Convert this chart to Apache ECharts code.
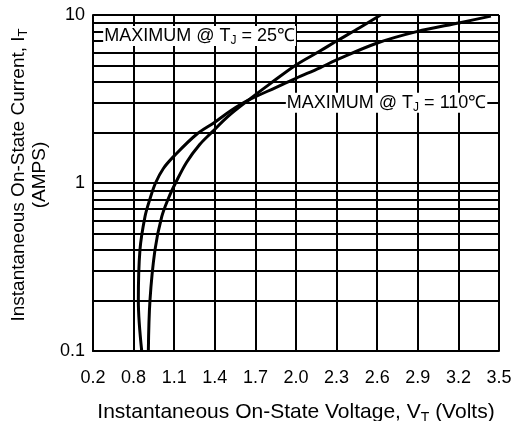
<!DOCTYPE html>
<html>
<head>
<meta charset="utf-8">
<script src="https://cdn.jsdelivr.net/npm/echarts@6/dist/echarts.min.js"></script>
<style>html,body{margin:0;padding:0;background:#fff}#c{width:524px;height:421px}</style>
</head>
<body>
<div id="c"></div>
<script>
// Tick labels (x axis is drawn with evenly spaced ticks: first label "0.2", then 0.8 ... 3.5)
var xTickLabels = ['0.2','0.8','1.1','1.4','1.7','2.0','2.3','2.6','2.9','3.2','3.5'];
var yTickLabels = ['0.1','1','10'];
var minorGrid = [0.2,0.3,0.4,0.5,0.6,0.7,0.8,0.9,2,3,4,5,6,7,8,9];

// Series: voltage (V) and current (A)
var v25  = [0.909,0.921,0.958,1.008,1.06,1.11,1.192,1.29,1.377,1.50,1.645,1.80,2.0,2.177,2.30,2.47,2.625];
var i25  = [0.1,0.2,0.4,0.63,0.82,1.0,1.33,1.7,2.0,2.5,3.1,3.85,5.04,6.1,7.0,8.4,10];
var v110 = [0.86,0.835,0.847,0.884,0.92,0.962,1.02,1.10,1.266,1.40,1.52,1.645,1.85,2.0,2.177,2.30,2.596,2.892,3.212,3.44];
var i110 = [0.1,0.2,0.4,0.63,0.8,1.0,1.22,1.45,1.95,2.3,2.7,3.1,3.7,4.2,4.85,5.4,6.79,7.96,9.0,9.85];

// Axis transform: 0.5 V at the first tick, 0.3 V per tick
function xPos(v){ return (v - 0.5) / 0.3; }
function pairs(vs, is){ return vs.map(function(v,k){ return [xPos(v), is[k]]; }); }

var FONT = 'Liberation Sans, Arial, sans-serif';
function rich(fs, ss){
  return {
    n: {fontSize:fs, fontFamily:FONT, color:'#000', lineHeight:fs+2},
    s: {fontSize:ss, fontFamily:FONT, color:'#000', lineHeight:ss, padding:[Math.round(fs*0.5),0,0,0]}
  };
}

var chart = echarts.init(document.getElementById('c'), null, {renderer:'canvas'});
chart.setOption({
  animation:false,
  backgroundColor:'#fff',
  grid:{left:93, right:25, top:15, bottom:70, containLabel:false, outerBoundsMode:'none'},
  xAxis:{
    type:'value', min:0, max:10, interval:1,
    axisLine:{show:true, lineStyle:{color:'#000', width:2}},
    axisTick:{show:false},
    axisLabel:{margin:18, fontSize:18, fontFamily:FONT, color:'#000',
      formatter:function(val){ return xTickLabels[Math.round(val)]; }},
    splitLine:{show:true, lineStyle:{color:'#000', width:2}},
    name:'{n|Instantaneous On-State Voltage, V}{s|T}{n| (Volts)}',
    nameLocation:'middle', nameGap:50,
    nameTextStyle:{rich:rich(21,14)}
  },
  yAxis:{
    type:'log', logBase:10, min:0.1, max:10,
    axisLine:{show:true, lineStyle:{color:'#000', width:2}},
    axisTick:{show:false},
    axisLabel:{margin:8, fontSize:18, fontFamily:FONT, color:'#000',
      formatter:function(val){ var k = Math.round(Math.log10(val)) + 1; return yTickLabels[k]; }},
    splitLine:{show:true, lineStyle:{color:'#000', width:2}},
    name:'{n|Instantaneous On-State Current, I}{s|T}\n{n|(AMPS)}',
    nameLocation:'middle', nameGap:33, nameRotate:90,
    nameTextStyle:{rich:rich(19,13), align:'center', padding:[0,0,0,16]}
  },
  series:[
    {
      type:'line', data:[[0,1]], showSymbol:false, silent:true, z:1,
      lineStyle:{width:0},
      markLine:{
        silent:true, symbol:['none','none'], animation:false,
        label:{show:false},
        lineStyle:{color:'#000', width:2, type:'solid'},
        data: minorGrid.map(function(g){ return {yAxis:g}; })
      }
    },
    {
      name:'25', type:'line', data:pairs(v25, i25), smooth:0.35, showSymbol:false, z:3,
      lineStyle:{color:'#000', width:3},
      markPoint:{
        symbol:'circle', symbolSize:0, silent:true,
        data:[{coord:[xPos(0.575), 7.5]}],
        label:{show:true, position:'right', distance:0,
          formatter:'{n|MAXIMUM @ T}{s|J}{n| = 25℃}',
          rich:rich(18,12), backgroundColor:'#fff', padding:[0,1,0,1]}
      }
    },
    {
      name:'110', type:'line', data:pairs(v110, i110), smooth:0.35, showSymbol:false, z:3,
      lineStyle:{color:'#000', width:3},
      markPoint:{
        symbol:'circle', symbolSize:0, silent:true,
        data:[{coord:[xPos(1.925), 3.0]}],
        label:{show:true, position:'right', distance:0,
          formatter:'{n|MAXIMUM @ T}{s|J}{n| = 110℃}',
          rich:rich(18,12), backgroundColor:'#fff', padding:[0,1,0,1]}
      }
    }
  ]
});
</script>
</body>
</html>
